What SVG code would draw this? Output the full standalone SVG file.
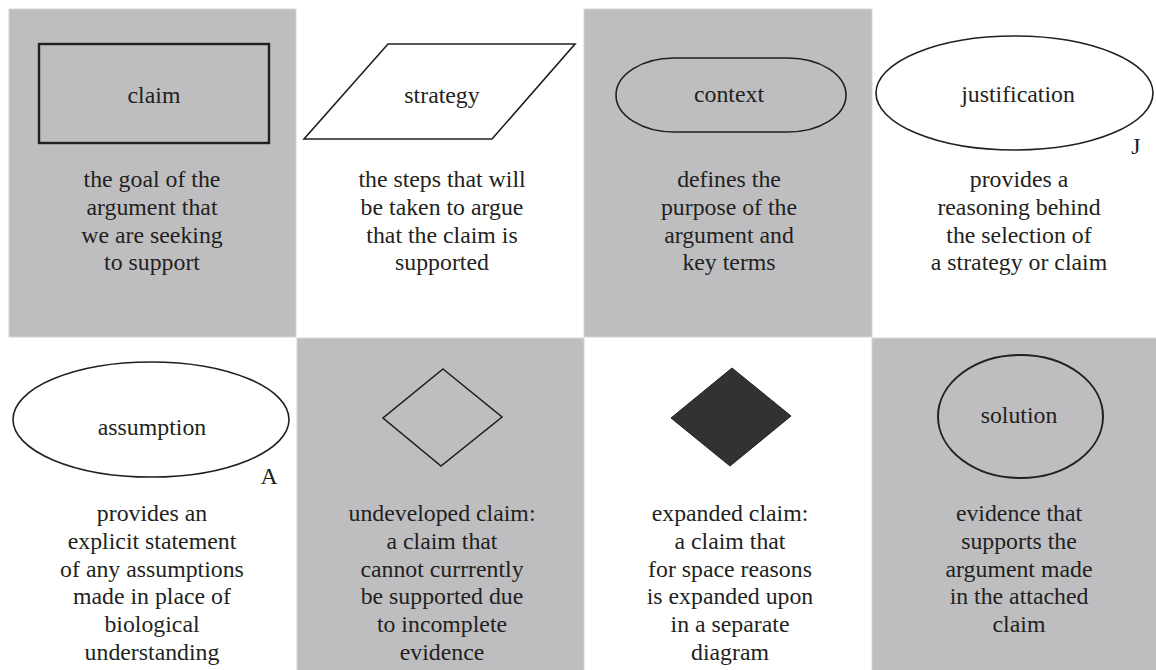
<svg xmlns="http://www.w3.org/2000/svg" width="1156" height="670" viewBox="0 0 1156 670">
<style>
  .cell-grey { fill: #bebec0; stroke: #d6d6d8; stroke-width: 1; }
  .shape { fill: none; stroke: #231f20; stroke-width: 1.6; }
  .t { font-family: "Liberation Serif", "Times New Roman", serif; font-size: 23.8px; fill: #231f20; text-anchor: middle; }
</style>
<rect x="0" y="0" width="1156" height="670" fill="#ffffff"/>
<g id="backgrounds">
  <rect class="cell-grey" x="9" y="9" width="287" height="328"/>
  <rect class="cell-grey" x="584" y="9" width="288" height="328"/>
  <rect class="cell-grey" x="297" y="338" width="287" height="333"/>
  <rect class="cell-grey" x="872" y="338" width="285" height="333"/>
</g>
<g id="connectors"></g>
<g id="claim">
  <rect class="shape" x="39" y="44" width="230" height="99" style="stroke-width:2.4"/>
  <text class="t" x="154" y="103">claim</text>
  <text class="t" x="152" y="187">the goal of the</text>
  <text class="t" x="152" y="214.8">argument that</text>
  <text class="t" x="152" y="242.6">we are seeking</text>
  <text class="t" x="152" y="270.4">to support</text>
</g>
<g id="strategy">
  <polygon class="shape" points="388,44 575,44 492,139 304,139"/>
  <text class="t" x="442" y="103">strategy</text>
  <text class="t" x="442" y="187">the steps that will</text>
  <text class="t" x="442" y="214.8">be taken to argue</text>
  <text class="t" x="442" y="242.6">that the claim is</text>
  <text class="t" x="442" y="270.4">supported</text>
</g>
<g id="context">
  <rect class="shape" x="616" y="58" width="230" height="74" rx="58" ry="37"/>
  <text class="t" x="729" y="102">context</text>
  <text class="t" x="729" y="187">defines the</text>
  <text class="t" x="729" y="214.8">purpose of the</text>
  <text class="t" x="729" y="242.6">argument and</text>
  <text class="t" x="729" y="270.4">key terms</text>
</g>
<g id="justification">
  <ellipse class="shape" cx="1014.5" cy="93" rx="138.5" ry="57"/>
  <text class="t" x="1018" y="102">justification</text>
  <text class="t" x="1136" y="154">J</text>
  <text class="t" x="1019" y="187">provides a</text>
  <text class="t" x="1019" y="214.8">reasoning behind</text>
  <text class="t" x="1019" y="242.6">the selection of</text>
  <text class="t" x="1019" y="270.4">a strategy or claim</text>
</g>
<g id="assumption">
  <ellipse class="shape" cx="151" cy="419.5" rx="138" ry="57.5"/>
  <text class="t" x="152" y="435">assumption</text>
  <text class="t" x="269" y="484">A</text>
  <text class="t" x="152" y="521">provides an</text>
  <text class="t" x="152" y="548.8">explicit statement</text>
  <text class="t" x="152" y="576.6">of any assumptions</text>
  <text class="t" x="152" y="604.4">made in place of</text>
  <text class="t" x="152" y="632.2">biological</text>
  <text class="t" x="152" y="660">understanding</text>
</g>
<g id="undeveloped">
  <polygon class="shape" points="443,369 502,417 441,466 383,418"/>
  <text class="t" x="442" y="521">undeveloped claim:</text>
  <text class="t" x="442" y="548.8">a claim that</text>
  <text class="t" x="442" y="576.6">cannot currrently</text>
  <text class="t" x="442" y="604.4">be supported due</text>
  <text class="t" x="442" y="632.2">to incomplete</text>
  <text class="t" x="442" y="660">evidence</text>
</g>
<g id="expanded">
  <polygon points="732,368 791,416 730,466 671,418" fill="#333132" stroke="#231f20" stroke-width="1"/>
  <text class="t" x="730" y="521">expanded claim:</text>
  <text class="t" x="730" y="548.8">a claim that</text>
  <text class="t" x="730" y="576.6">for space reasons</text>
  <text class="t" x="730" y="604.4">is expanded upon</text>
  <text class="t" x="730" y="632.2">in a separate</text>
  <text class="t" x="730" y="660">diagram</text>
</g>
<g id="solution">
  <ellipse class="shape" cx="1020.5" cy="416.5" rx="82.5" ry="61.5" style="stroke-width:2"/>
  <text class="t" x="1019" y="423">solution</text>
  <text class="t" x="1019" y="521">evidence that</text>
  <text class="t" x="1019" y="548.8">supports the</text>
  <text class="t" x="1019" y="576.6">argument made</text>
  <text class="t" x="1019" y="604.4">in the attached</text>
  <text class="t" x="1019" y="632.2">claim</text>
</g>
</svg>
